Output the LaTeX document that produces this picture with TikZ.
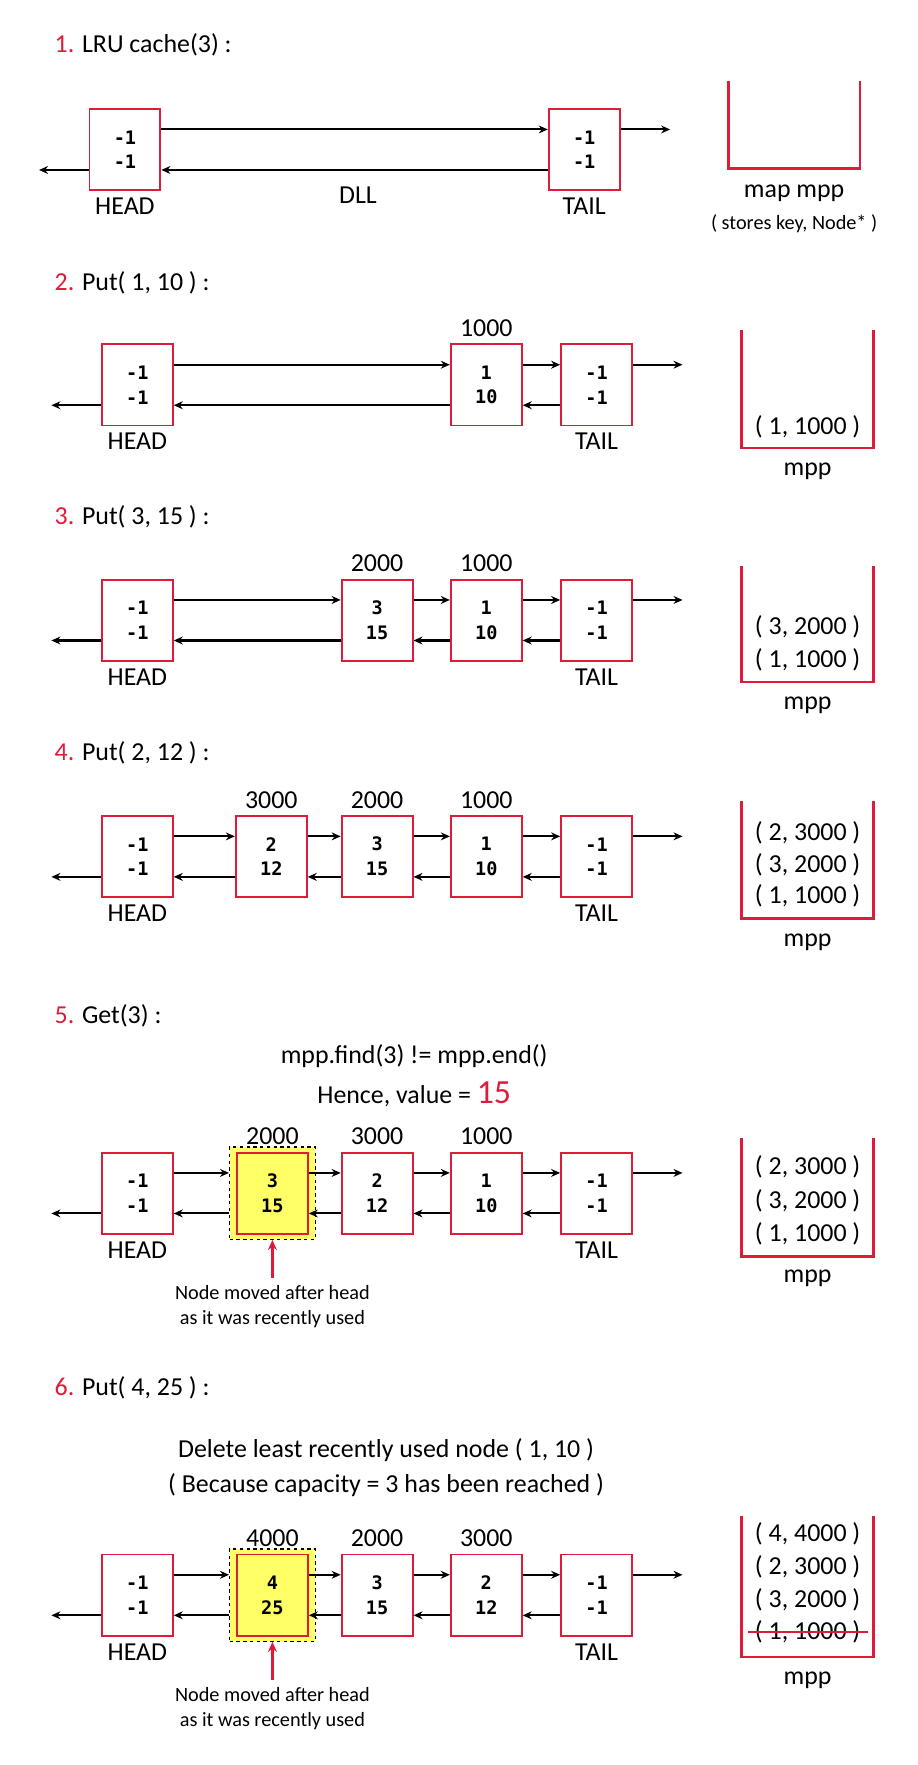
\documentclass[tikz,border=0pt]{standalone}
\usepackage{fontspec}
\setmainfont{Carlito}
\newfontfamily\cellfont{DejaVu Sans Mono}
\usetikzlibrary{arrows.meta,positioning}
\definecolor{lrured}{RGB}{222,28,58}
\definecolor{hiyellow}{RGB}{255,255,102}

\begin{document}
\begin{tikzpicture}[
  x=1pt, y=-1pt,
  every node/.style={font=\fontsize{23}{27}\selectfont},
  label distance=2.6pt,
  heading/.style={anchor=west},
  cell/.style={
    draw=lrured,
    line width=1.7pt,
    fill=white,
    minimum width=63pt,
    minimum height=72pt,
    inner sep=0pt,
    align=center,
    font=\cellfont\bfseries\fontsize{16.5}{22}\selectfont
  },
  hot/.style={cell, fill=hiyellow},
  halo/.style={
    draw=black,
    dashed,
    line width=1.1pt,
    fill=hiyellow,
    minimum width=76pt,
    minimum height=82pt
  },
  link/.style={-{Stealth[length=8pt,width=7pt]}, line width=1.8pt},
  bucket/.style={draw=lrured, line width=2.4pt},
  small/.style={font=\fontsize{18}{22}\selectfont, align=center},
  pointer/.style={draw=lrured, line width=2pt, -{Stealth[length=9pt,width=8pt]}},
  strike/.style={draw=lrured, line width=2.2pt}
]
\useasboundingbox (0,0) rectangle (815,1568);

% 1. empty cache
\node[heading] at (45,40) {\textcolor{lrured}{1.} LRU cache(3) :};
\node[cell, label=below:HEAD] (h1) at (111,133) {-1\\-1};
\node[cell, label=below:TAIL] (t1) at (519,133) {-1\\-1};
\coordinate[left=44pt of h1] (l1);
\coordinate[right=44pt of t1] (r1);
\draw[link] ([yshift=18]h1.east) -- ([yshift=18]t1.west);
\draw[link] ([yshift=-18]t1.west) -- ([yshift=-18]h1.east);
\draw[link] ([yshift=-18]h1.west) -- ([yshift=-18]l1);
\draw[link] ([yshift=18]t1.east) -- ([yshift=18]r1);
\node (dll) at (318,173) {DLL};
\draw[bucket] (647,72) |- (764,150) -- (764,72);
\node (m1) at (705.5,172) {map mpp};
\node[small] (m1note) at (705.5,199) {( stores key, Node* )};

% 2. put(1,10)
\node[heading] at (45,251) {\textcolor{lrured}{2.} Put( 1, 10 ) :};
\node[cell, label=below:HEAD] (h2) at (122,342) {-1\\-1};
\node[cell, label=above:1000] (n2a) at (432,342) {1\\10};
\node[cell, label=below:TAIL] (t2) at (530,342) {-1\\-1};
\coordinate[left=44pt of h2] (l2);
\coordinate[right=44pt of t2] (r2);
\foreach \u/\v in {h2/n2a,n2a/t2} {
  \draw[link] ([yshift=18]\u.east) -- ([yshift=18]\v.west);
  \draw[link] ([yshift=-18]\v.west) -- ([yshift=-18]\u.east);
}
\draw[link] ([yshift=-18]h2.west) -- ([yshift=-18]l2);
\draw[link] ([yshift=18]t2.east) -- ([yshift=18]r2);
\draw[bucket] (659,293) |- (776,398) -- (776,293);
\node (e2a) at (717.5,379) {( 1, 1000 )};
\node (m2) at (717.5,419) {mpp};

% 3. put(3,15)
\node[heading] at (45,459) {\textcolor{lrured}{3.} Put( 3, 15 ) :};
\node[cell, label=below:HEAD] (h3) at (122,551) {-1\\-1};
\node[cell, label=above:2000] (n3b) at (335,551) {3\\15};
\node[cell, label=above:1000] (n3a) at (432,551) {1\\10};
\node[cell, label=below:TAIL] (t3) at (530,551) {-1\\-1};
\coordinate[left=44pt of h3] (l3);
\coordinate[right=44pt of t3] (r3);
\foreach \u/\v in {h3/n3b,n3b/n3a,n3a/t3} {
  \draw[link] ([yshift=18]\u.east) -- ([yshift=18]\v.west);
  \draw[link] ([yshift=-18]\v.west) -- ([yshift=-18]\u.east);
}
\draw[link] ([yshift=-18]h3.west) -- ([yshift=-18]l3);
\draw[link] ([yshift=18]t3.east) -- ([yshift=18]r3);
\draw[bucket] (659,503) |- (776,606) -- (776,503);
\foreach \e [count=\i from 0] in {{( 3, 2000 )},{( 1, 1000 )}}
  \node at (717.5,557+29*\i) {\e};
\node (m3) at (717.5,627) {mpp};

% 4. put(2,12)
\node[heading] at (45,669) {\textcolor{lrured}{4.} Put( 2, 12 ) :};
\node[cell, label=below:HEAD] (h4) at (122,761) {-1\\-1};
\node[cell, label=above:3000] (n4c) at (241,761) {2\\12};
\node[cell, label=above:2000] (n4b) at (335,761) {3\\15};
\node[cell, label=above:1000] (n4a) at (432,761) {1\\10};
\node[cell, label=below:TAIL] (t4) at (530,761) {-1\\-1};
\coordinate[left=44pt of h4] (l4);
\coordinate[right=44pt of t4] (r4);
\foreach \u/\v in {h4/n4c,n4c/n4b,n4b/n4a,n4a/t4} {
  \draw[link] ([yshift=18]\u.east) -- ([yshift=18]\v.west);
  \draw[link] ([yshift=-18]\v.west) -- ([yshift=-18]\u.east);
}
\draw[link] ([yshift=-18]h4.west) -- ([yshift=-18]l4);
\draw[link] ([yshift=18]t4.east) -- ([yshift=18]r4);
\draw[bucket] (659,712) |- (776,816) -- (776,712);
\foreach \e [count=\i from 0] in {{( 2, 3000 )},{( 3, 2000 )},{( 1, 1000 )}}
  \node at (717.5,740+28*\i) {\e};
\node (m4) at (717.5,837) {mpp};

% 5. get(3)
\node[heading] at (45,902) {\textcolor{lrured}{5.} Get(3) :};
\node (q5) at (368,938) {mpp.find(3) != mpp.end()};
\node (v5) at (368,972) {Hence, value = \textcolor{lrured}{\fontsize{30}{32}\selectfont 15}};
\node[cell, label=below:HEAD] (h5) at (122,1060) {-1\\-1};
\node[halo] (g5) at (242,1060) {};
\node[hot, label=above:2000] (n5b) at (242,1060) {3\\15};
\node[cell, label=above:3000] (n5c) at (335,1060) {2\\12};
\node[cell, label=above:1000] (n5a) at (432,1060) {1\\10};
\node[cell, label=below:TAIL] (t5) at (530,1060) {-1\\-1};
\coordinate[left=44pt of h5] (l5);
\coordinate[right=44pt of t5] (r5);
\foreach \u/\v in {h5/g5,n5b/n5c,n5c/n5a,n5a/t5} {
  \draw[link] ([yshift=18]\u.east) -- ([yshift=18]\v.west);
  \draw[link] ([yshift=-18]\v.west) -- ([yshift=-18]\u.east);
}
\draw[link] ([yshift=-18]h5.west) -- ([yshift=-18]l5);
\draw[link] ([yshift=18]t5.east) -- ([yshift=18]r5);
\coordinate[below=34pt of g5] (p5);
\draw[pointer] (p5) -- (g5.south);
\node[small, below=3pt of p5] (w5) {Node moved after head\\as it was recently used};
\draw[bucket] (659,1011) |- (776,1116) -- (776,1011);
\foreach \e [count=\i from 0] in {{( 2, 3000 )},{( 3, 2000 )},{( 1, 1000 )}}
  \node at (717.5,1037+29.5*\i) {\e};
\node (m5) at (717.5,1136) {mpp};

% 6. put(4,25)
\node[heading] at (45,1233) {\textcolor{lrured}{6.} Put( 4, 25 ) :};
\node (d6) at (343,1288) {Delete least recently used node ( 1, 10 )};
\node (c6) at (343,1319) {( Because capacity = 3 has been reached )};
\node[cell, label=below:HEAD] (h6) at (122,1417) {-1\\-1};
\node[halo] (g6) at (242,1417) {};
\node[hot, label=above:4000] (n6d) at (242,1417) {4\\25};
\node[cell, label=above:2000] (n6b) at (335,1417) {3\\15};
\node[cell, label=above:3000] (n6c) at (432,1417) {2\\12};
\node[cell, label=below:TAIL] (t6) at (530,1417) {-1\\-1};
\coordinate[left=44pt of h6] (l6);
\coordinate[right=44pt of t6] (r6);
\foreach \u/\v in {h6/g6,n6d/n6b,n6b/n6c,n6c/t6} {
  \draw[link] ([yshift=18]\u.east) -- ([yshift=18]\v.west);
  \draw[link] ([yshift=-18]\v.west) -- ([yshift=-18]\u.east);
}
\draw[link] ([yshift=-18]h6.west) -- ([yshift=-18]l6);
\draw[link] ([yshift=18]t6.east) -- ([yshift=18]r6);
\coordinate[below=34pt of g6] (p6);
\draw[pointer] (p6) -- (g6.south);
\node[small, below=3pt of p6] (w6) {Node moved after head\\as it was recently used};
\draw[bucket] (659,1347) |- (776,1472) -- (776,1347);
\foreach \e [count=\i from 0] in {{( 4, 4000 )},{( 2, 3000 )},{( 3, 2000 )}}
  \node at (717.5,1363+29*\i) {\e};
\node (e6a) at (717.5,1450) {( 1, 1000 )};
\draw[strike] ([xshift=-3]e6a.west) -- ([xshift=3]e6a.east);
\node (m6) at (717.5,1493) {mpp};
\end{tikzpicture}
\end{document}
